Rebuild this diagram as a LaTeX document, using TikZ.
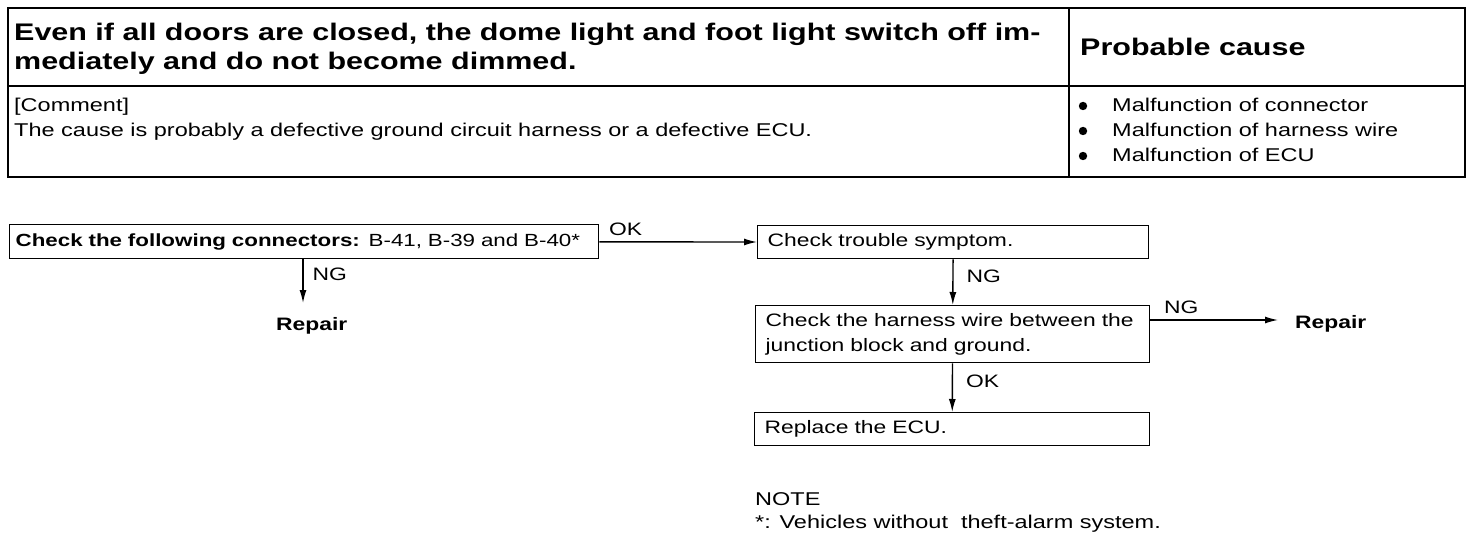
\documentclass[tikz,border=0pt]{standalone}
\usepackage{fontspec}
\setmainfont{Liberation Sans}[FakeStretch=1.27]
\usetikzlibrary{arrows.meta,positioning}

\begin{document}
\begin{tikzpicture}[x=1pt, y=-1pt,
    txt/.style={font=\fontsize{18.5}{23}\selectfont, inner sep=0pt, anchor=base west},
    hd/.style={font=\fontsize{24}{28}\selectfont\bfseries, inner sep=0pt, anchor=base west},
    box/.style={draw, line width=1.3pt, anchor=north west, inner xsep=10pt, inner ysep=0pt,
                align=left, font=\fontsize{18}{25}\selectfont},
    lbl/.style={font=\fontsize{18}{23}\selectfont, inner sep=0pt, anchor=base west},
    rep/.style={font=\fontsize{18}{23}\selectfont\bfseries, inner sep=0pt, anchor=base west},
    arr/.style={-{Latex[length=13pt,width=7pt]}, line width=1.4pt}]
  \useasboundingbox (0,0) rectangle (1472,540);

  % table
  \draw[line width=2pt] (8,8) rectangle (1465,177);
  \draw[line width=1.6pt] (8,86) -- (1465,86);
  \draw[line width=1.4pt] (1069,8) -- (1069,177);
  \node[hd] (head1) at (14,41) {Even if all doors are closed, the dome light and foot light switch off im-};
  \node[hd] (head2) at (14,70) {mediately and do not become dimmed.};
  \node[hd] (cause) at (1080,56) {Probable cause};
  \node[txt] (comment) at (14,112) {[Comment]};
  \node[txt] (reason) at (14,137) {The cause is probably a defective ground circuit harness or a defective ECU.};
  \foreach \y/\t in {112/connector, 137/harness wire, 162/ECU} {
    \fill (1083,\y-6) circle (4.2pt);
    \node[txt] (mf\y) at (1112,\y) {Malfunction of \t};
  }

  % flow
  \node[box, inner xsep=6pt, minimum width=589pt, minimum height=34pt, text width=577pt,
        font=\fontsize{17.6}{25}\selectfont] (conn) at (9,224)
    {\mbox{\textbf{Check the following connectors:} B-41, B-39 and B-40*}};
  \node[box, minimum width=391pt, minimum height=33pt, text width=371pt] (symp) at (757,225) {Check trouble symptom.};
  \node[box, minimum width=394pt, minimum height=57pt, text width=374pt] (harn) at (755,305)
    {\makebox[374pt][s]{Check the harness wire between the}\\junction block and ground.};
  \node[box, minimum width=395pt, minimum height=33pt, text width=375pt] (ecu) at (754,412) {Replace the ECU.};
  \node[rep] (rep1) at (276,330) {Repair};
  \node[rep] (rep2) at (1295,328) {Repair};
  \coordinate (ng1end) at (303,303);
  \coordinate (ng3end) at (1278,320);

  \draw[arr] (conn) -- (symp) node[lbl, pos=0, xshift=9pt, yshift=6pt] (ok1) {OK};
  \draw[arr] (conn.south -| ng1end) -- (ng1end) node[lbl, pos=0.5, xshift=9pt, yshift=1pt] (ng1) {NG};
  \draw[arr] (symp) -- (harn) node[lbl, pos=0.5, xshift=13pt] (ng2) {NG};
  \draw[arr] (harn.east |- ng3end) -- (ng3end) node[lbl, pos=0, xshift=13pt, yshift=7pt] (ng3) {NG};
  \draw[arr] (harn) -- (ecu) node[lbl, pos=0.5, xshift=13pt] (ok2) {OK};

  % note
  \node[txt] (note) at (755,505) {NOTE};
  \node[txt] (star) at (755,528) {*: Vehicles without\ \ theft-alarm system.};
\end{tikzpicture}
\end{document}
